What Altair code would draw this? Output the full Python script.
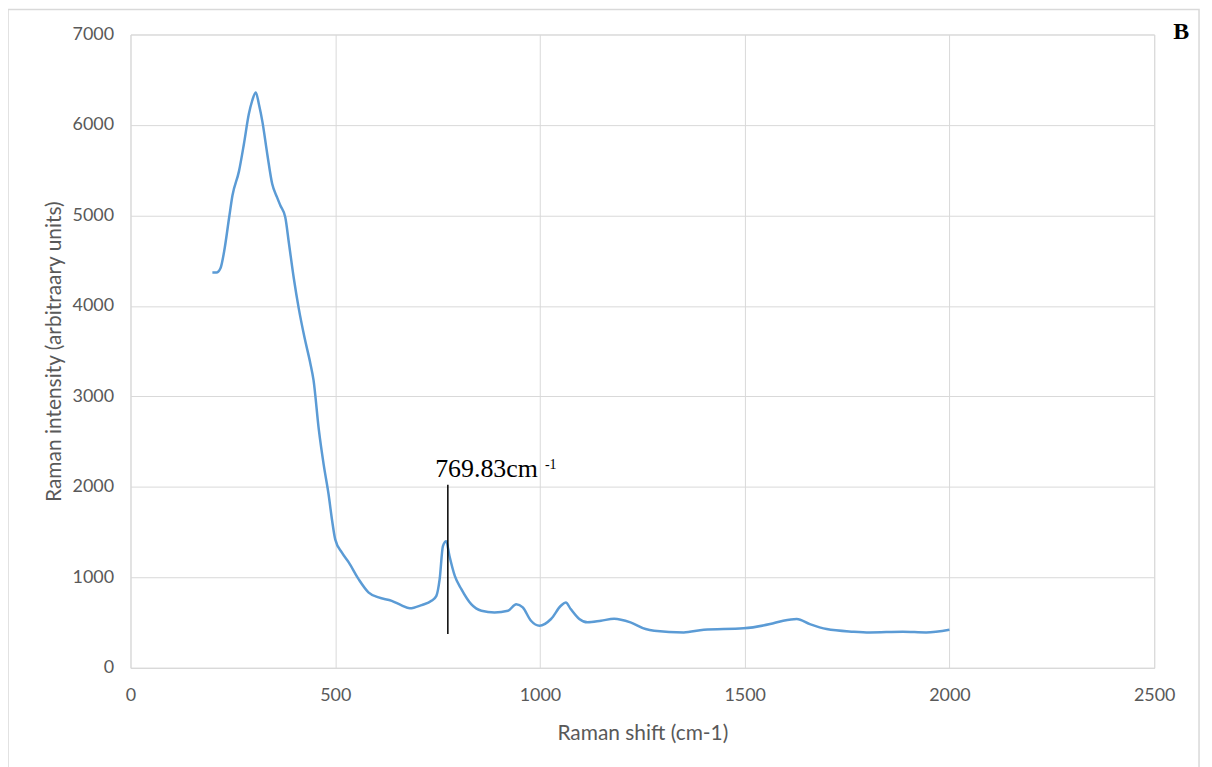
import altair as alt
import pandas as pd

# Raman spectrum
shift = [200, 210, 220, 229, 241, 249, 265, 277, 289, 297, 306, 314, 322, 334, 346,
         358, 366, 378, 387, 399, 411, 425, 439, 447, 460, 472, 484, 492, 500, 516,
         533, 557, 581, 606, 638, 662, 682, 711, 735, 747, 755, 763, 771, 779, 792,
         808, 832, 857, 889, 922, 942, 958, 978, 999, 1027, 1051, 1063, 1075, 1096,
         1116, 1149, 1181, 1221, 1258, 1279, 1351, 1400, 1497, 1562, 1594, 1627, 1659,
         1700, 1765, 1805, 1886, 1943, 2000]
intensity = [4370, 4370, 4420, 4610, 4980, 5220, 5490, 5790, 6120, 6265, 6360, 6220,
             6040, 5680, 5350, 5200, 5110, 4980, 4690, 4300, 3970, 3650, 3370, 3180,
             2630, 2240, 1910, 1640, 1420, 1275, 1165, 980, 835, 778, 741, 690, 658,
             694, 741, 796, 980, 1346, 1400, 1236, 1016, 870, 704, 631, 612, 631, 704,
             668, 521, 466, 540, 686, 723, 650, 540, 503, 521, 543, 503, 429, 411, 392,
             422, 437, 484, 521, 540, 484, 429, 400, 392, 400, 392, 422]

x_ticks = [0, 500, 1000, 1500, 2000, 2500]
y_ticks = [0, 1000, 2000, 3000, 4000, 5000, 6000, 7000]

# annotation of the peak
peak_x = [775]
peak_y0 = [374]
peak_y1 = [2025]
label_main = ["769.83cm"]
label_x = [744]
label_y = [2113]
sup_text = ["-1"]
sup_x = [1012]
sup_y = [2195]
panel_letter = ["B"]

spec = pd.DataFrame({"shift": shift, "intensity": intensity})
peak = pd.DataFrame({"x": peak_x, "y0": peak_y0, "y1": peak_y1})
lab = pd.DataFrame({"x": label_x, "y": label_y, "t": label_main})
sup = pd.DataFrame({"x": sup_x, "y": sup_y, "t": sup_text})
letter = pd.DataFrame({"t": panel_letter})

LABEL_FONT = "Lato"
GRAY = "#595959"
GRID = "#d9d9d9"

x_scale = alt.Scale(domain=[0, 2500], nice=False)
y_scale = alt.Scale(domain=[0, 7000], nice=False)

x_axis = alt.Axis(values=x_ticks, title="Raman shift (cm-1)", grid=True, gridColor=GRID,
                  domainColor=GRID, ticks=False, tickSize=0, labelColor=GRAY,
                  labelFont=LABEL_FONT, labelFontSize=18, labelPadding=19,
                  labelFlush=False, labelOverlap=False,
                  titleFont=LABEL_FONT, titleFontSize=21, titleColor=GRAY,
                  titleFontWeight="normal", titlePadding=18, format="d")
y_axis = alt.Axis(values=y_ticks, title="Raman intensity (arbitraary units)", grid=True,
                  gridColor=GRID, domain=False, ticks=False, tickSize=0, labelColor=GRAY,
                  labelFont=LABEL_FONT, labelFontSize=18, labelPadding=17,
                  labelFlush=False, labelOverlap=False,
                  titleFont=LABEL_FONT, titleFontSize=21, titleColor=GRAY,
                  titleFontWeight="normal", titlePadding=8, format="d")

line = alt.Chart(spec).mark_line(color="#5B9BD5", strokeWidth=2.5,
                                 interpolate="monotone").encode(
    x=alt.X("shift:Q", scale=x_scale, axis=x_axis),
    y=alt.Y("intensity:Q", scale=y_scale, axis=y_axis),
    order="shift:Q",
)

rule = alt.Chart(peak).mark_rule(color="black", strokeWidth=1.5).encode(
    x=alt.X("x:Q", scale=x_scale),
    y=alt.Y("y0:Q", scale=y_scale),
    y2="y1:Q",
)

text_main = alt.Chart(lab).mark_text(font="Liberation Serif", fontSize=26, color="black",
                                     align="left", baseline="alphabetic").encode(
    x=alt.X("x:Q", scale=x_scale), y=alt.Y("y:Q", scale=y_scale), text="t:N")

text_sup = alt.Chart(sup).mark_text(font="Liberation Serif", fontSize=14, color="black",
                                    align="left", baseline="alphabetic").encode(
    x=alt.X("x:Q", scale=x_scale), y=alt.Y("y:Q", scale=y_scale), text="t:N")

text_letter = alt.Chart(letter).mark_text(font="Liberation Serif", fontSize=24,
                                          fontWeight="bold", color="black",
                                          align="left", baseline="alphabetic").encode(
    x=alt.value(1047), y=alt.value(5), text="t:N")

border = alt.Chart(letter).mark_rect(fill=None, stroke=GRID, strokeWidth=1.5).encode(
    x=alt.value(-123), x2=alt.value(1073), y=alt.value(-25), y2=alt.value(760))

chart = alt.layer(border, line, rule, text_main, text_sup, text_letter).properties(
    width=1028, height=636,
    autosize=alt.AutoSizeParams(type="none"),
    padding={"left": 123, "top": 25, "right": 50, "bottom": 110},
).configure_view(strokeWidth=0).configure(background="white")

chart.save("out.html", embed_options={"renderer": "svg", "actions": False})
